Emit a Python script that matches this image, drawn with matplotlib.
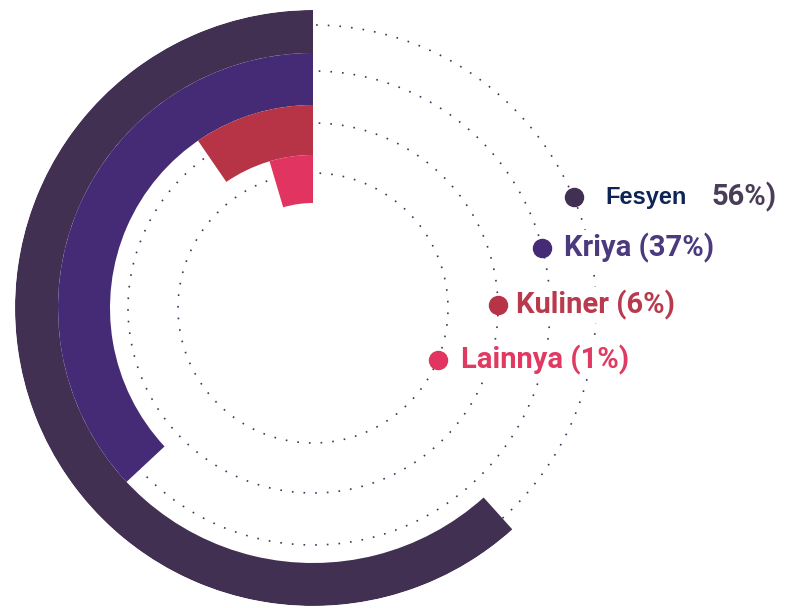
import matplotlib
matplotlib.use('Agg')
import matplotlib.pyplot as plt
import numpy as np

categories = ['Fesyen', 'Kriya', 'Kuliner', 'Lainnya']
shares = [56, 37, 6, 1]
sweepDegrees = [222, 133, 34.5, 16.5]   # arc lengths as drawn in the original, not proportional
barColors = ['#423052', '#452a76', '#b63446', '#e23460']
textColors = ['#4a3d58', '#4b3a7e', '#b83a4c', '#e03a62']

# layout, in pixels from the ring center
ringInner = [255, 203, 153, 105]
ringOuter = [298, 255, 203, 153]
guideRadius = [283, 237, 185, 135]
labelAngles = [293, 284.7, 270.9, 247.4]
labelOffset = [32, 22, 18, 23]

W, H = 788, 608
cx, cy, R = 313, 308, 298

fig = plt.figure(figsize=(W / 100, H / 100), dpi=100)
fig.patch.set_facecolor('white')
ax = fig.add_axes([(cx - R) / W, (H - cy - R) / H, 2 * R / W, 2 * R / H], projection='polar')
ax.set_theta_zero_location('N')
ax.set_theta_direction(1)
ax.set_axis_off()

# dotted guide circles
theta = np.linspace(0, 2 * np.pi, 720)
for r in guideRadius:
    ax.plot(theta, np.full_like(theta, r), color='#3c3a5c', lw=1.2,
            linestyle=(0, (1, 6)), zorder=1, clip_on=False)

# the radial bars
for i in range(len(categories)):
    sweep = np.radians(sweepDegrees[i])
    ax.bar(sweep / 2, ringOuter[i] - ringInner[i], width=sweep, bottom=ringInner[i],
           color=barColors[i], linewidth=0, zorder=2)

# legend dots sitting on the guide circles, labels beside them
for i in range(len(categories)):
    t = np.radians(labelAngles[i])
    ax.plot([t], [guideRadius[i]], 'o', ms=13, color=barColors[i], zorder=3, clip_on=False)
    if i == 0:
        ax.annotate(categories[i], (t, guideRadius[i]), xytext=(labelOffset[i], 0),
                    textcoords='offset pixels', va='center', ha='left',
                    fontsize=17, fontweight='bold', family='Liberation Sans', color='#0d2455',
                    bbox=dict(boxstyle='square,pad=0.15', fc='white', ec='none'), zorder=4)
        ax.annotate(f'{shares[i]}%)', (t, guideRadius[i]), xytext=(138, 0),
                    textcoords='offset pixels', va='center', ha='left',
                    fontsize=21, fontweight='bold', family='Roboto', color=textColors[i],
                    bbox=dict(boxstyle='square,pad=0.1', fc='white', ec='none'), zorder=4)
    else:
        ax.annotate(f'{categories[i]} ({shares[i]}%)', (t, guideRadius[i]),
                    xytext=(labelOffset[i], 0), textcoords='offset pixels',
                    va='center', ha='left', fontsize=21, fontweight='bold', family='Roboto',
                    color=textColors[i],
                    bbox=dict(boxstyle='square,pad=0.1', fc='white', ec='none'), zorder=4)

ax.set_ylim(0, R)
fig.savefig('out.png', dpi=100)
